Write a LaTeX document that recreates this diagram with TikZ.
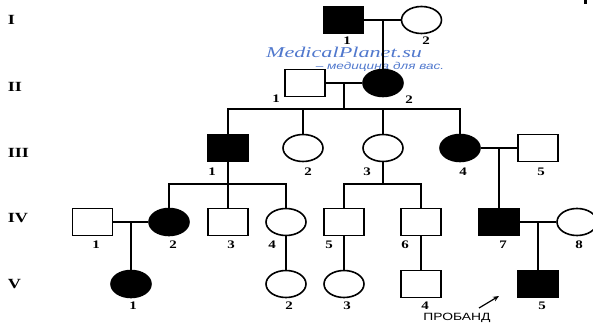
\documentclass[tikz,border=0pt]{standalone}
\usepackage{fontspec}
\setmainfont{Liberation Serif}
\newfontfamily\capsans{Liberation Sans}
\usetikzlibrary{shapes.geometric,arrows.meta}
\definecolor{wmblue}{RGB}{80,120,205}
% the whole chart is set a little wider than tall
\newcommand{\widen}[1]{\scalebox{1.3}[1]{#1}}

\begin{document}
\begin{tikzpicture}[x=1pt,y=-1pt,line width=1.6pt,
  male/.style={rectangle,draw,minimum width=40pt,minimum height=27pt,inner sep=0pt},
  female/.style={ellipse,draw,minimum width=40pt,minimum height=27pt,inner sep=0pt},
  aff/.style={fill=black},
  num/.style={font=\bfseries\fontsize{11.5}{11.5}\selectfont,inner sep=0pt},
  gen/.style={font=\bfseries\fontsize{14}{14}\selectfont,inner sep=0pt,anchor=west},
  link/.style={line width=1.6pt}]
\useasboundingbox (0,0) rectangle (593,328);

% generation numerals
\node[gen] (gI)   at (7,20)  {\widen{I}};
\node[gen] (gII)  at (7,87)  {\widen{II}};
\node[gen] (gIII) at (7,153) {\widen{III}};
\node[gen] (gIV)  at (7,218) {\widen{IV}};
\node[gen] (gV)   at (7,284) {\widen{V}};

% watermark
\node[inner sep=0pt,text=wmblue,font=\itshape\fontsize{15}{15}\selectfont] (wm1) at (344,52) {\scalebox{1.48}[1]{MedicalPlanet.su}};
\node[inner sep=0pt,text=wmblue,font=\capsans\itshape\fontsize{10}{10}\selectfont] (wm2) at (380,66.5) {\scalebox{1.36}[1]{– медицина для вас.}};

% generation I
\node[male,aff] (i1) at (343.5,20) {};
\node[female]   (i2) at (421.5,20) {};
% generation II
\node[male]       (ii1) at (305,83) {};
\node[female,aff] (ii2) at (383,83) {};
% generation III
\node[male,aff]   (iii1) at (228,148) {};
\node[female]     (iii2) at (303,148) {};
\node[female]     (iii3) at (383,148) {};
\node[female,aff] (iii4) at (460,148) {};
\node[male]       (iii5) at (538,148) {};
% generation IV
\node[male]       (iv1) at (92.5,222) {};
\node[female,aff] (iv2) at (169,222) {};
\node[male]       (iv3) at (228,222) {};
\node[female]     (iv4) at (286,222) {};
\node[male]       (iv5) at (344,222) {};
\node[male]       (iv6) at (421,222) {};
\node[male,aff]   (iv7) at (499,222) {};
\node[female]     (iv8) at (577,222) {};
% generation V
\node[female,aff] (v1) at (131,284) {};
\node[female]     (v2) at (286,284) {};
\node[female]     (v3) at (344,284) {};
\node[male]       (v4) at (421,284) {};
\node[male,aff]   (v5) at (538,284) {};

% individual numbers
\node[num] (li1) at (347,41) {\widen{1}};
\node[num] (li2) at (426,41) {\widen{2}};
\node[num] (lii1) at (276,99) {\widen{1}};
\node[num] (lii2) at (409,100) {\widen{2}};
\node[num] (liii1) at (212,172) {\widen{1}};
\node[num] (liii2) at (308,172) {\widen{2}};
\node[num] (liii3) at (367,172) {\widen{3}};
\node[num] (liii4) at (463,172) {\widen{4}};
\node[num] (liii5) at (541,172) {\widen{5}};
\node[num] (liv1) at (96,245) {\widen{1}};
\node[num] (liv2) at (173,245) {\widen{2}};
\node[num] (liv3) at (231,245) {\widen{3}};
\node[num] (liv4) at (272,245) {\widen{4}};
\node[num] (liv5) at (329,245) {\widen{5}};
\node[num] (liv6) at (405,245) {\widen{6}};
\node[num] (liv7) at (503,245) {\widen{7}};
\node[num] (liv8) at (579,245) {\widen{8}};
\node[num] (lv1) at (133,306) {\widen{1}};
\node[num] (lv2) at (289,306) {\widen{2}};
\node[num] (lv3) at (347,306) {\widen{3}};
\node[num] (lv4) at (425,306) {\widen{4}};
\node[num] (lv5) at (542,306) {\widen{5}};

% couples, descent lines and sibships
\coordinate (mI) at (383,20);
\draw[link] (i1.east) -- (i2.west);
\draw[link] (mI) -- (ii2.north);

\coordinate (mII) at (344,83);
\coordinate (sII) at (344,109);
\draw[link] (ii1.east) -- (ii2.west);
\draw[link] (mII) -- (sII);
\draw[link] (iii1.north) -- (iii1.north |- sII) -- (iii4.north |- sII) -- (iii4.north);
\draw[link] (iii2.north) -- (iii2.north |- sII);
\draw[link] (iii3.north) -- (iii3.north |- sII);

\coordinate (sIIIa) at (228,184);
\draw[link] (iii1.south) -- (sIIIa);
\draw[link] (iv2.north) -- (iv2.north |- sIIIa) -- (iv4.north |- sIIIa) -- (iv4.north);
\draw[link] (iv3.north) -- (iv3.north |- sIIIa);

\coordinate (sIIIb) at (383,184);
\draw[link] (iii3.south) -- (sIIIb);
\draw[link] (iv5.north) -- (iv5.north |- sIIIb) -- (iv6.north |- sIIIb) -- (iv6.north);

\coordinate (mIII) at (499,148);
\draw[link] (iii4.east) -- (iii5.west);
\draw[link] (mIII) -- (iv7.north);

\coordinate (mIVa) at (131,222);
\draw[link] (iv1.east) -- (iv2.west);
\draw[link] (mIVa) -- (v1.north);

\draw[link] (iv4.south) -- (v2.north);
\draw[link] (iv5.south) -- (v3.north);
\draw[link] (iv6.south) -- (v4.north);

\coordinate (mIVb) at (538,222);
\draw[link] (iv7.east) -- (iv8.west);
\draw[link] (mIVb) -- (v5.north);

% proband marker
\node[inner sep=0pt,font=\capsans\fontsize{10.5}{10.5}\selectfont] (prob) at (457,318) {\scalebox{1.32}[1]{ПРОБАНД}};
\coordinate (ptail) at (479,308);
\coordinate (phead) at (499,296);
\draw[line width=1.2pt,-{Stealth[length=6pt,width=5pt]}] (ptail) -- (phead);

% small mark at the top edge
\fill (584,0) rectangle (587,4);
\end{tikzpicture}
\end{document}
